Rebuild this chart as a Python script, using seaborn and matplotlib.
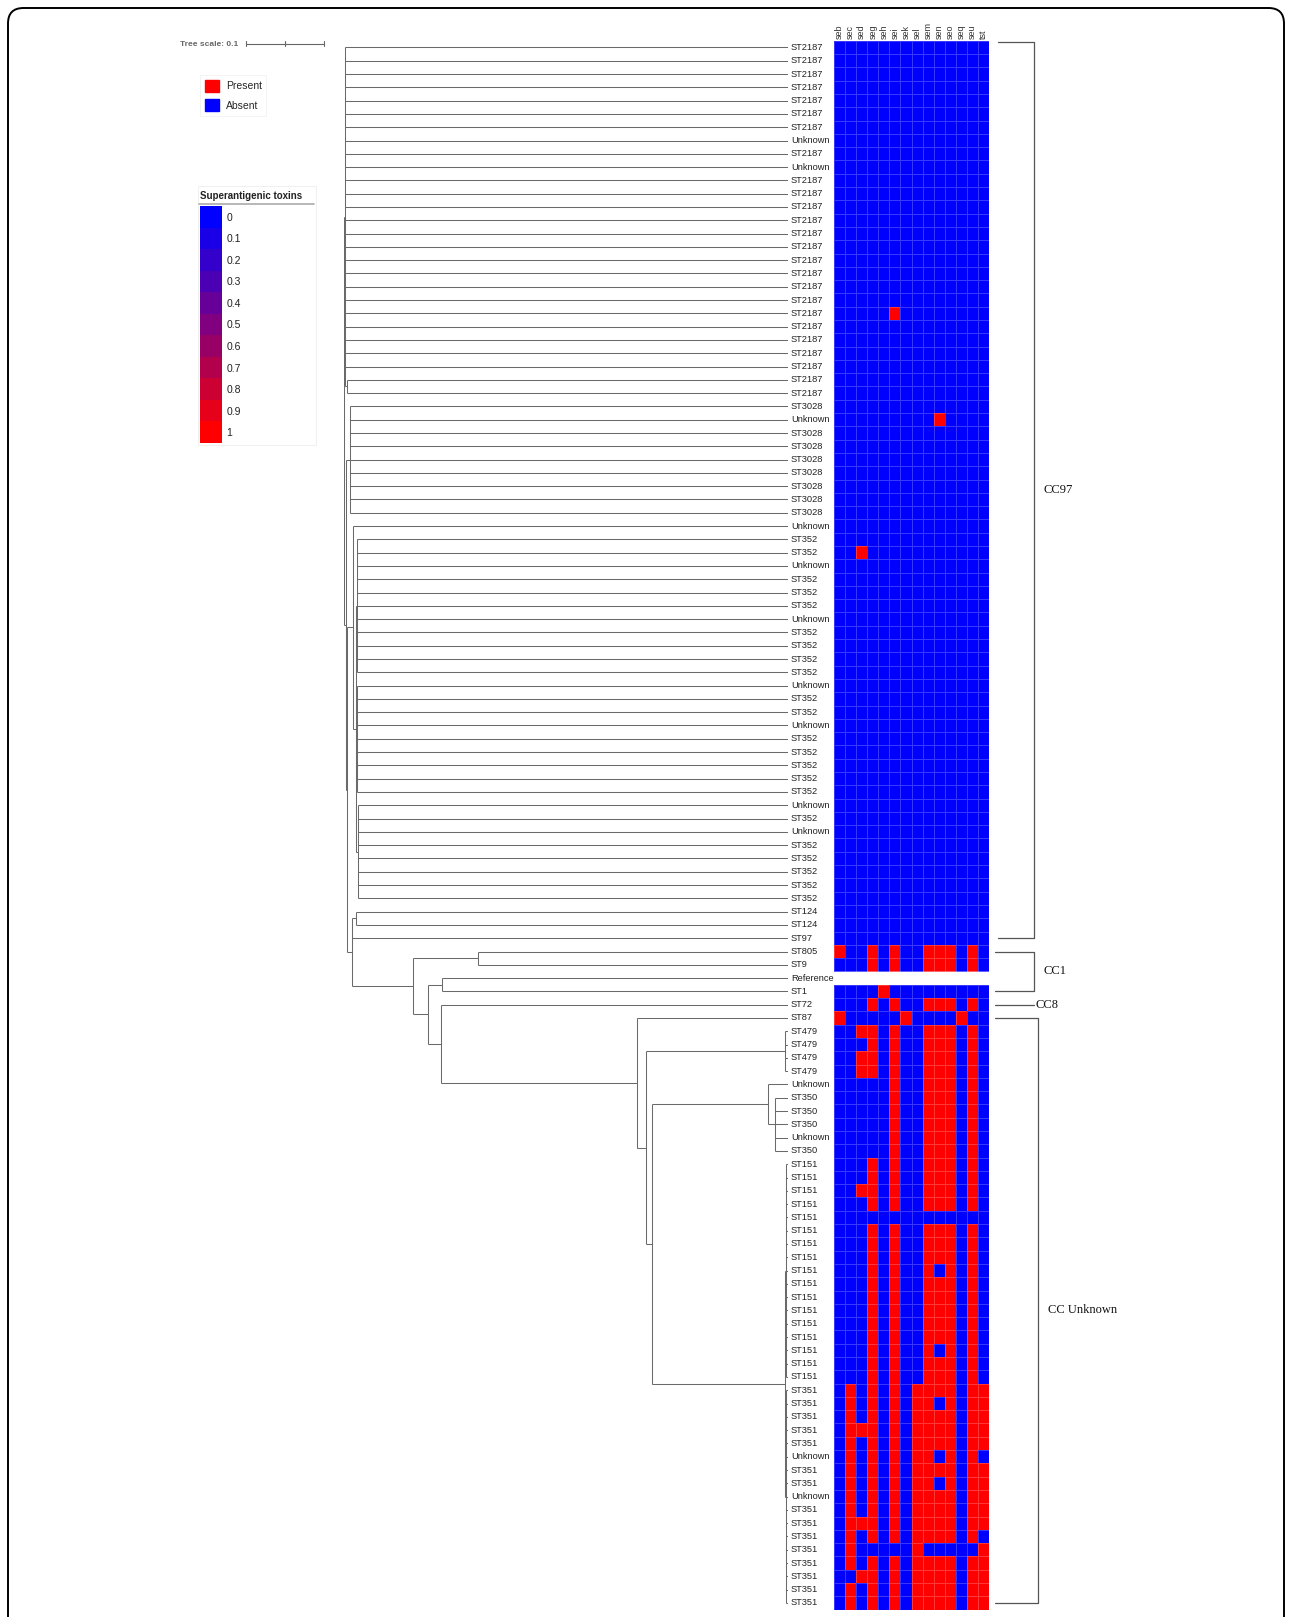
import numpy as np
import pandas as pd
import matplotlib
matplotlib.use("Agg")
import matplotlib.pyplot as plt
import seaborn as sns
from matplotlib.colors import ListedColormap, LinearSegmentedColormap
from matplotlib.patches import Patch, FancyBboxPatch, Rectangle
from matplotlib.lines import Line2D
from matplotlib.collections import LineCollection
import matplotlib.transforms as mtransforms

sns.set_theme(style="white")
plt.rcParams["font.family"] = ["Liberation Sans", "DejaVu Sans"]

# ---------------- data ----------------
toxins = ["seb", "sec", "sed", "seg", "seh", "sei", "sek", "sel",
          "sem", "sen", "seo", "seq", "seu", "tst"]

st_labels = (
    ["ST2187"] * 7 + ["Unknown", "ST2187", "Unknown"] + ["ST2187"] * 17
    + ["ST3028", "Unknown"] + ["ST3028"] * 7
    + ["Unknown", "ST352", "ST352", "Unknown", "ST352", "ST352", "ST352", "Unknown"]
    + ["ST352"] * 4 + ["Unknown", "ST352", "ST352", "Unknown"] + ["ST352"] * 5
    + ["Unknown", "ST352", "Unknown"] + ["ST352"] * 5
    + ["ST124", "ST124", "ST97", "ST805", "ST9", "Reference", "ST1", "ST72", "ST87"]
    + ["ST479"] * 4 + ["Unknown", "ST350", "ST350", "ST350", "Unknown", "ST350"]
    + ["ST151"] * 17
    + ["ST351"] * 5 + ["Unknown", "ST351", "ST351", "Unknown"] + ["ST351"] * 8
)

# presence profiles (1 = present, 0 = absent, - = not typed), one string per row
profiles_cc97 = (
    ["00000000000000"] * 20 + ["00000100000000"] + ["00000000000000"] * 7
    + ["00000000010000"] + ["00000000000000"] * 9
    + ["00100000000000"] + ["00000000000000"] * 29
)
profiles_other = [
    "10010100111010",  # ST805
    "00010100111010",  # ST9
    "--------------",  # Reference
    "00001000000000",  # ST1
    "00010100111010",  # ST72
    "10000010000100",  # ST87
    "00110100111010", "00010100111010", "00110100111010", "00110100111010",  # ST479
    "00000100111010", "00000100111010", "00000100111010",
    "00000100111010", "00000100111010", "00000100111010",  # Unknown / ST350
    "00010100111010", "00010100111010", "00110100111010", "00010100111010",
    "00000000000000", "00010100111010", "00010100111010", "00010100111010",
    "00010100101010", "00010100111010", "00010100111010", "00010100111010",
    "00010100111010", "00010100111010", "00010100101010", "00010100111010",
    "00010100111010",  # ST151
    "01010101111011", "01010101101011", "01010101111011", "01110101111011",
    "01010101111011", "01010101101010", "01010101111011", "01010101101011",
    "01010101111011", "01010101111011", "01110101111011", "01010101111010",
    "01000001000001", "01010101111011", "00110101111011", "01010101111011",
    "01010101111011",  # ST351 / Unknown
]

# tree: (branch_length, [children]); integers are leaves (row index)
def clade(bl, *kids):
    return (bl, list(kids))

def span(a, b):
    return list(range(a, b))

tree = clade(0.0,
    clade(0.0013, *span(0, 25), clade(0.0026, 25, 26)),
    clade(0.0026,
        clade(0.0051, *span(27, 36)),
        clade(0.0013,
            clade(0.0077, 36,
                  clade(0.0038,
                        clade(0.0013, *span(37, 48)),
                        clade(0.0019, *span(48, 57)),
                        clade(0.0026, *span(57, 65)))),
            clade(0.0064,
                clade(0.0051, 65, 66),
                67,
                clade(0.0782,
                    clade(0.0833, 68, 69),
                    clade(0.0192,
                        clade(0.0179, 70, 71),
                        clade(0.0167,
                            72,
                            clade(0.2513,
                                73,
                                clade(0.0115,
                                    clade(0.1782, *span(74, 78)),
                                    clade(0.0077,
                                        clade(0.1487, 78, clade(0.0090, *span(79, 84))),
                                        clade(0.1705,
                                              clade(0.0013, *span(84, 101)),
                                              clade(0.0013, *span(101, 118)))))))))))))
leaf_depth = 0.569
tree_scale = 0.1

clades = [("CC97", 0, 67), ("CC1", 68, 71), ("CC8", 72, 72), ("CC Unknown", 73, 117)]

legend_levels = [0, 0.1, 0.2, 0.3, 0.4, 0.5, 0.6, 0.7, 0.8, 0.9, 1]

# ---------------- figure ----------------
W, H = 1292, 1617
fig = plt.figure(figsize=(W / 100, H / 100), dpi=100)
fig.patch.set_facecolor("white")

n_rows = len(st_labels)
top_px, bot_px = 40.8, 1609.6
ax_bottom = 1 - bot_px / H
ax_height = (bot_px - top_px) / H

# tree axes
tree_left, tree_w = 344 / W, 444 / W
ax_tree = fig.add_axes([tree_left, ax_bottom, tree_w, ax_height])
ax_tree.set_xlim(0, leaf_depth)
ax_tree.set_ylim(n_rows, 0)
ax_tree.axis("off")

segs = []

def layout(node, parent_depth):
    if isinstance(node, int):
        y = node + 0.5
        segs.append([(parent_depth, y), (leaf_depth, y)])
        return y
    bl, kids = node
    d = parent_depth + bl
    ys = [layout(k, d) for k in kids]
    y = (ys[0] + ys[-1]) / 2
    segs.append([(d, min(ys)), (d, max(ys))])
    if bl > 0:
        segs.append([(parent_depth, y), (d, y)])
    return y

layout(tree, 0.0)
ax_tree.add_collection(LineCollection(segs, colors="#6a6a6a", linewidths=0.75))

for i, lab in enumerate(st_labels):
    ax_tree.annotate(lab, (leaf_depth, i + 0.5), xytext=(2.0, 0),
                     textcoords="offset points", va="center", ha="left",
                     fontsize=6.7, color="#222222", annotation_clip=False)

# heatmap
data = np.array([[np.nan if c == "-" else float(c) for c in row]
                 for row in profiles_cc97 + profiles_other])
df = pd.DataFrame(data, columns=toxins)
ax_hm = fig.add_axes([834 / W, ax_bottom, 155 / W, ax_height])
sns.heatmap(df, ax=ax_hm, cmap=ListedColormap(["#0000ff", "#ff0000"]), vmin=0, vmax=1,
            cbar=False, linewidths=0.5, linecolor=(1, 1, 1, 0.22),
            xticklabels=toxins, yticklabels=False)
ax_hm.xaxis.tick_top()
ax_hm.set_xticklabels(toxins, rotation=90, fontsize=6.5, color="#333333")
ax_hm.tick_params(axis="x", length=0, pad=1)
ax_hm.set_xlabel("")
ax_hm.set_ylabel("")

# clade brackets
tr = mtransforms.blended_transform_factory(fig.transFigure, ax_hm.transData)
for name, r0, r1 in clades:
    y0, y1 = r0 + 0.5, r1 + 0.5
    xs = 995 / W
    xe = (1038 if name == "CC Unknown" else 1034) / W
    if r0 == 0:
        y0 = r0 + 0.1
        xs = 998 / W
    col = "#555555"
    if r0 == r1:
        fig.add_artist(Line2D([xs, xe], [y0, y0], transform=tr, color=col, lw=0.9))
        fig.text(xe + 2 / W, y0, name, transform=tr, va="center", ha="left",
                 fontsize=9, family="Liberation Serif", color="#111111")
    else:
        fig.add_artist(Line2D([xs, xe, xe, xs], [y0, y0, y1, y1], transform=tr,
                              color=col, lw=0.9))
        fig.text(xe + 10 / W, (y0 + y1) / 2, name, transform=tr, va="center",
                 ha="left", fontsize=9, family="Liberation Serif", color="#111111")

# tree scale bar
bar_left = 246 / W
bar_w = tree_scale / leaf_depth * tree_w
yb = 1 - 44 / H
fig.text(180 / W, yb, "Tree scale: 0.1", fontsize=6, fontweight="bold", color="#666666",
         va="center", ha="left")
fig.add_artist(Line2D([bar_left, bar_left + bar_w], [yb, yb], color="#666666", lw=0.8))
for fx in (bar_left, bar_left + bar_w / 2, bar_left + bar_w):
    fig.add_artist(Line2D([fx, fx], [yb - 2.5 / H, yb + 2.5 / H], color="#666666", lw=0.8))

# present / absent legend
leg = fig.legend(handles=[Patch(facecolor="#ff0000", edgecolor="#ff0000"),
                          Patch(facecolor="#0000ff", edgecolor="#0000ff")],
                 labels=["Present", "Absent"], loc="upper left",
                 bbox_to_anchor=(195 / W, 1 - 70 / H), frameon=True, fancybox=False,
                 edgecolor="#eeeeee", fontsize=7.5, handlelength=1.4, handleheight=1.4,
                 borderpad=0.45, labelspacing=0.7, handletextpad=0.6)
leg.get_frame().set_linewidth(0.6)

# continuous legend
fig.add_artist(Rectangle((198 / W, 1 - 445 / H), 118 / W, 259 / H, fill=False,
                         ec="#eeeeee", lw=0.6, transform=fig.transFigure))
fig.text(200 / W, 1 - 196 / H, "Superantigenic toxins", fontsize=7, fontweight="bold",
         color="#222222", va="center", ha="left")
fig.add_artist(Line2D([199 / W, 314 / W], [1 - 204 / H, 1 - 204 / H], color="#aaaaaa", lw=1.2))
ax_leg = fig.add_axes([200 / W, 1 - 443 / H, 22 / W, 237 / H])
sns.heatmap(np.array(legend_levels).reshape(-1, 1), ax=ax_leg,
            cmap=LinearSegmentedColormap.from_list("br", ["#0000ff", "#ff0000"]),
            vmin=0, vmax=1, cbar=False, xticklabels=False,
            yticklabels=[("%g" % v) for v in legend_levels])
ax_leg.yaxis.tick_right()
ax_leg.set_yticklabels([("%g" % v) for v in legend_levels], rotation=0, fontsize=7.5,
                       color="#222222")
ax_leg.tick_params(axis="y", length=0, pad=3)

# outer rounded frame
fig.add_artist(FancyBboxPatch((8 / W, -0.02), 1276 / W, 1 - 8 / H + 0.02,
                              boxstyle="round,pad=0,rounding_size=0.012",
                              mutation_aspect=W / H, fill=False, ec="black", lw=1.4,
                              transform=fig.transFigure))

fig.savefig("out.png", dpi=100, facecolor="white")
